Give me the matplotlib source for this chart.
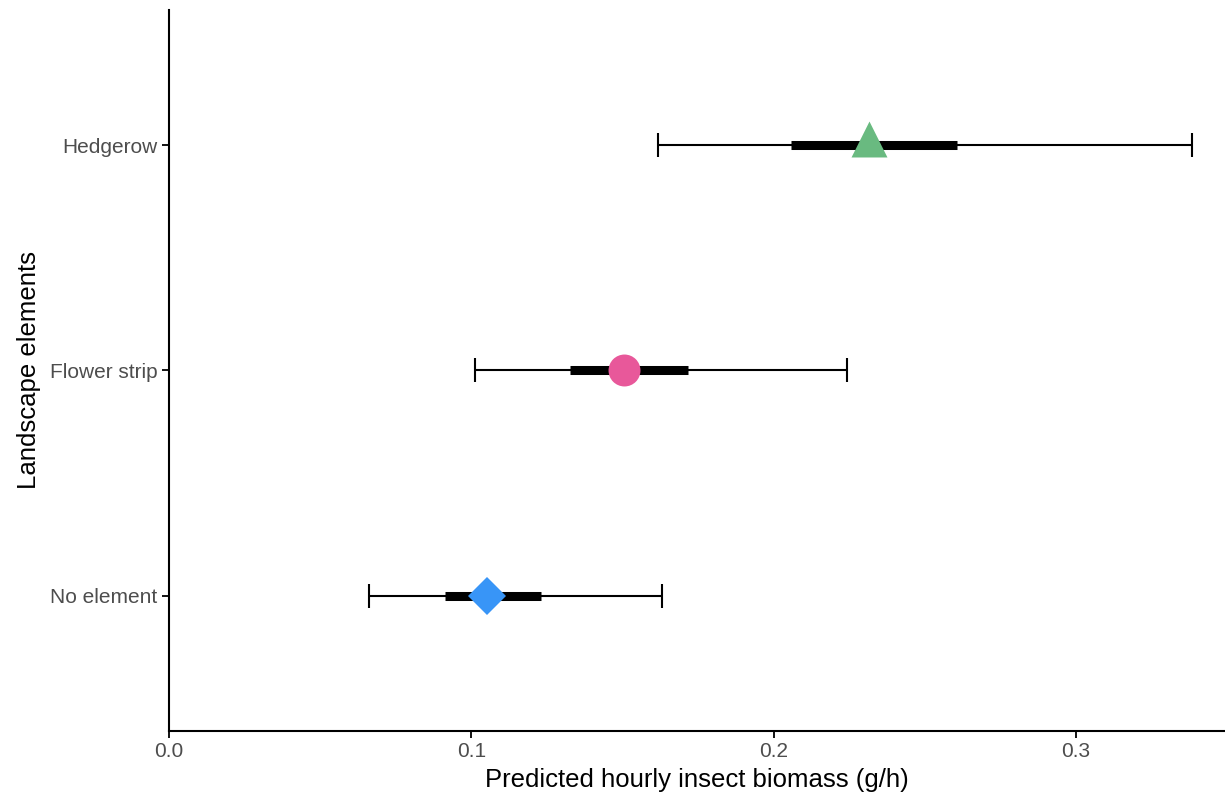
#!/usr/bin/env python3
"""Predicted hourly insect biomass by landscape element."""

import matplotlib.pyplot as plt
from matplotlib.path import Path

plt.rcParams["font.family"] = ["Liberation Sans", "DejaVu Sans"]

# Data
categories = ["No element", "Flower strip", "Hedgerow"]
estimate = [0.1052, 0.1505, 0.2316]
ci95_low = [0.0662, 0.1012, 0.1618]
ci95_high = [0.1631, 0.2243, 0.3384]
ci50_low = [0.0913, 0.1327, 0.2058]
ci50_high = [0.1231, 0.1717, 0.2607]
colors = ["#3895F7", "#E8589A", "#69BA80"]

# triangle centred on its centroid, like ggplot's shape 17
tri = Path([(-0.5, -1 / 3), (0.5, -1 / 3), (0, 2 / 3), (-0.5, -1 / 3)],
           [Path.MOVETO, Path.LINETO, Path.LINETO, Path.CLOSEPOLY])
markers = ["D", "o", tri]
sizes = [19, 23, 34.5]

fig = plt.figure(figsize=(12.25, 7.97), dpi=100)
ax = fig.add_axes([0.138, 0.0828, 0.862, 0.9047])

ypos = list(range(1, len(categories) + 1))

for y, est, lo, hi, lo50, hi50, c, m, s in zip(
    ypos, estimate, ci95_low, ci95_high, ci50_low, ci50_high, colors, markers, sizes
):
    # outer interval with caps
    ax.errorbar(est, y, xerr=[[est - lo], [hi - est]], fmt="none",
                ecolor="black", elinewidth=1.5, capsize=8.5, capthick=1.5, zorder=2)
    # inner interval
    ax.plot([lo50, hi50], [y, y], color="black", linewidth=6.5,
            solid_capstyle="butt", zorder=3)
    ax.plot(est, y, marker=m, color=c, markersize=s, markeredgewidth=0,
            linestyle="none", zorder=4)

ax.set_xlim(0, 0.3493)
ax.set_ylim(0.4, 3.6)
ax.set_xticks([0.0, 0.1, 0.2, 0.3])
ax.set_xticklabels(["0.0", "0.1", "0.2", "0.3"])
ax.set_yticks(ypos)
ax.set_yticklabels(categories)

ax.set_xlabel("Predicted hourly insect biomass (g/h)", fontsize=18.5, labelpad=5)
ax.set_ylabel("Landscape elements", fontsize=18.5, labelpad=6)
ax.tick_params(axis="both", labelsize=15, labelcolor="#4D4D4D", color="black",
               width=1.3, length=5)
ax.tick_params(axis="x", pad=3)

for side in ["top", "right"]:
    ax.spines[side].set_visible(False)
for side in ["left", "bottom"]:
    ax.spines[side].set_linewidth(1.5)

fig.savefig("out.png", dpi=100)
